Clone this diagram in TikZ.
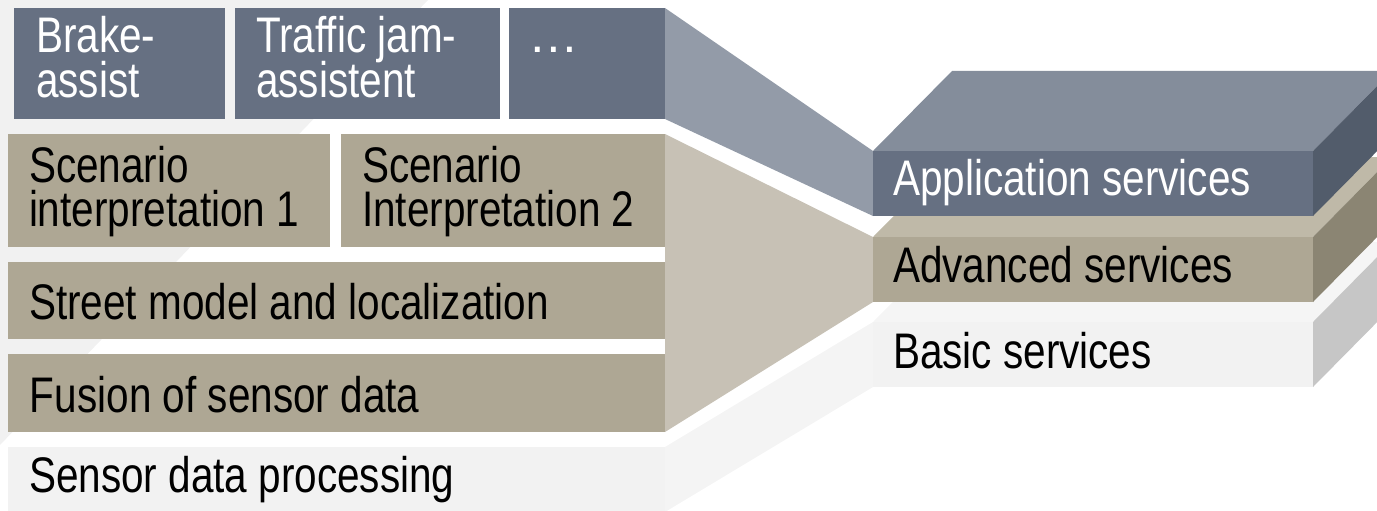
\documentclass[tikz,border=0pt]{standalone}
\usepackage{fontspec}
\setmainfont{Liberation Sans}[FakeStretch=0.81]
% layer colours: application (slate), advanced (tan), basic (light grey)
\definecolor{appfront}{HTML}{667082}
\definecolor{apptop}{HTML}{848D9B}
\definecolor{appside}{HTML}{525C6B}
\definecolor{appwedge}{HTML}{939BA8}
\definecolor{advfront}{HTML}{AEA794}
\definecolor{advtop}{HTML}{BFB9A8}
\definecolor{advside}{HTML}{8B8573}
\definecolor{advwedge}{HTML}{C7C1B5}
\definecolor{basfront}{HTML}{F2F2F2}
\definecolor{bastop}{HTML}{F5F5F5}
\definecolor{basside}{HTML}{C6C6C6}
\definecolor{baswedge}{HTML}{F4F4F4}
\definecolor{backdrop}{HTML}{F1F1F1}
% two-line label, baseline on its last line, rows spaced by the strut (44pt)
\newcommand{\twolines}[2]{\begin{tabular}[b]{@{}l@{}}\smash{#1}\\\smash{#2}\end{tabular}}
\begin{document}
\begin{tikzpicture}[x=1pt,y=-1pt,
  box/.style={rectangle, draw=none, inner sep=0pt, outer sep=0pt, anchor=north west},
  lbl/.style={anchor=base west, inner sep=0pt, outer sep=0pt,
              font=\fontsize{50}{44}\selectfont},
  wlbl/.style={lbl, text=white}
]
\useasboundingbox (0,0) rectangle (1377,511);
\clip (0,0) rectangle (1377,511);

% faint diagonal backdrop behind the left stack
\fill[backdrop] (0,0) -- (428,0) -- (0,445) -- cycle;

% ---------- left stack ----------
\node[box, fill=appfront, minimum width=211, minimum height=111] (brake)   at (14,8)  {};
\node[box, fill=appfront, minimum width=265, minimum height=111] (traffic) at (235,8) {};
\node[box, fill=appfront, minimum width=156, minimum height=111] (more)    at (509,8) {};
\node[box, fill=advfront, minimum width=322, minimum height=113] (scenA)   at (8,134)  {};
\node[box, fill=advfront, minimum width=324, minimum height=113] (scenB)   at (341,134) {};
\node[box, fill=advfront, minimum width=657, minimum height=77]  (street)  at (8,262) {};
\node[box, fill=advfront, minimum width=657, minimum height=78]  (fusion)  at (8,354) {};
\node[box, fill=basfront, minimum width=657, minimum height=65]  (sensor)  at (8,447) {};

% ---------- right stack: front faces ----------
\node[box, minimum width=440, minimum height=65] (basF) at (873,322) {};
\node[box, minimum width=440, minimum height=65] (advF) at (873,237) {};
\node[box, minimum width=440, minimum height=65] (appF) at (873,151) {};

% ---------- wedges joining both stacks ----------
\fill[appwedge] (more.north east) -- (appF.north west) -- (appF.south west) -- (more.south east) -- cycle;
\fill[advwedge] (scenB.north east) -- (advF.north west) -- (advF.south west) -- (fusion.south east) -- cycle;
\fill[baswedge] (sensor.north east) -- (basF.north west) -- (basF.south west) -- (sensor.south east) -- cycle;

% ---------- right stack: blocks, drawn bottom to top ----------
% basic services
\fill[bastop] (basF.north west) -- ++(79,-80) -- ++(440,0) -- (basF.north east) -- cycle;
\fill[basside] (basF.north east) -- ++(79,-80) -- ++(0,65) -- (basF.south east) -- cycle;
\fill[basfront] (basF.north west) rectangle (basF.south east);
% advanced services
\fill[advtop] (advF.north west) -- ++(79,-80) -- ++(440,0) -- (advF.north east) -- cycle;
\fill[advside] (advF.north east) -- ++(79,-80) -- ++(0,65) -- (advF.south east) -- cycle;
\fill[advfront] (advF.north west) rectangle (advF.south east);
% application services
\fill[apptop] (appF.north west) -- ++(79,-80) -- ++(440,0) -- (appF.north east) -- cycle;
\fill[appside] (appF.north east) -- ++(79,-80) -- ++(0,65) -- (appF.south east) -- cycle;
\fill[appfront] (appF.north west) rectangle (appF.south east);

% ---------- labels ----------
\node[wlbl] (brakeT)   at (36,97)  {\twolines{Brake-}{assist}};
\node[wlbl] (trafficT) at (256,97) {\twolines{Traffic jam-}{assistent}};
\node[wlbl] (moreT)    at (528,53) {\scalebox{1.25}[1]{…}};
\node[lbl]  (scenAT)   at (29,226)  {\twolines{Scenario}{interpretation 1}};
\node[lbl]  (scenBT)   at (362,226) {\twolines{Scenario}{Interpretation 2}};
\node[lbl]  (streetT)  at (29,319)  {Street model and localization};
\node[lbl]  (fusionT)  at (30,412)  {Fusion of sensor data};
\node[lbl]  (sensorT)  at (29,492)  {Sensor data processing};
\node[wlbl] (appT)     at (893,195) {Application services};
\node[lbl]  (advT)     at (893,282) {Advanced services};
\node[lbl]  (basT)     at (893,368) {Basic services};
\end{tikzpicture}
\end{document}
